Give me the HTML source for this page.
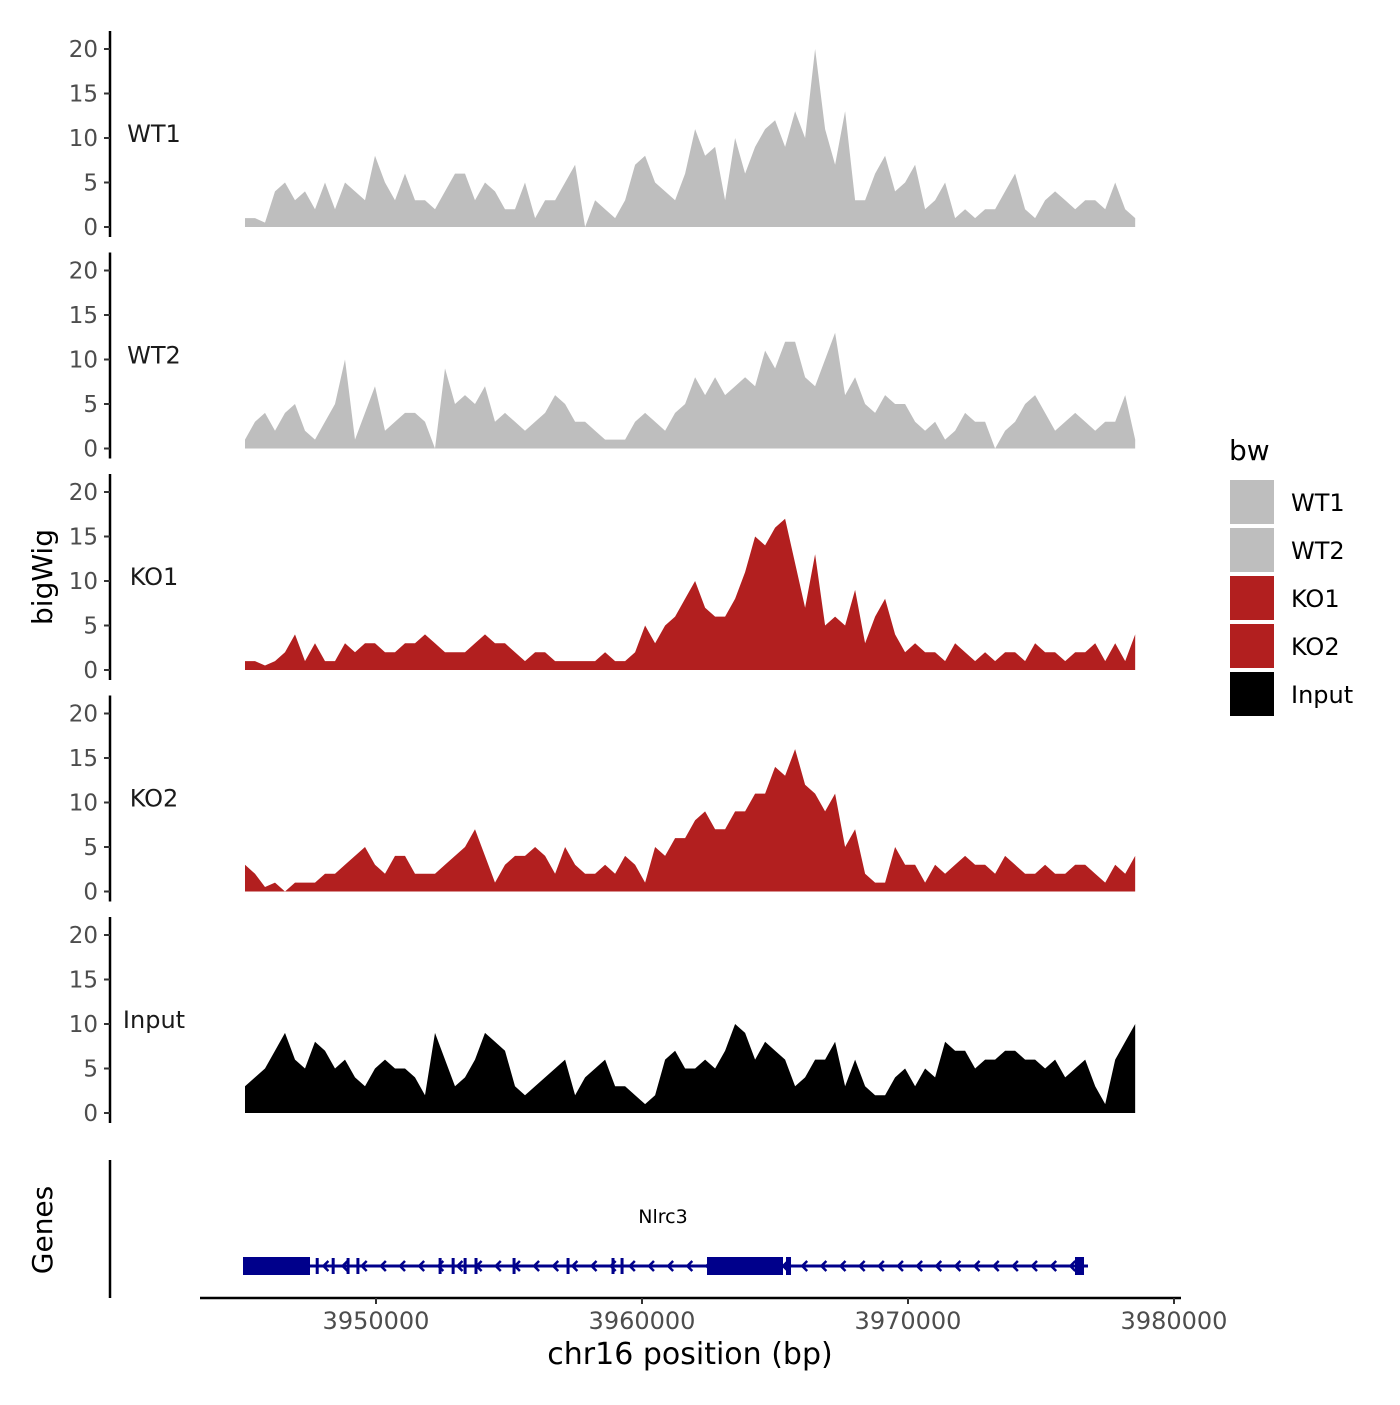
<!DOCTYPE html>
<html><head><meta charset="utf-8"><style>
body{margin:0;background:#fff}
svg text{font-family:"DejaVu Sans","Liberation Sans",sans-serif}
</style></head><body>
<svg id="chart" width="1400" height="1400" viewBox="0 0 1400 1400" xmlns="http://www.w3.org/2000/svg">
<g id="tracks"></g>
<g id="genes"></g>
<g id="xaxis"></g>
<text transform="translate(52,577) rotate(-90)" text-anchor="middle" font-size="28" fill="#000">bigWig</text>
<text transform="translate(52,1230) rotate(-90)" text-anchor="middle" font-size="28" fill="#000">Genes</text>
<text x="690" y="1364" text-anchor="middle" font-size="30" fill="#000">chr16 position (bp)</text>
<g id="legend"></g>
</svg>
<script>
const trackNames = ["WT1","WT2","KO1","KO2","Input"];
const trackColors = ["#bebebe","#bebebe","#b21f1f","#b21f1f","#000000"];
const binStart = 3945075;
const binEnd = 3978540;
const wt1 = [1,1,0.5,4,5,3,4,2,5,2,5,4,3,8,5,3,6,3,3,2,4,6,6,3,5,4,2,2,5,1,3,3,5,7,0,3,2,1,3,7,8,5,4,3,6,11,8,9,3,10,6,9,11,12,9,13,10,20,11,7,13,3,3,6,8,4,5,7,2,3,5,1,2,1,2,2,4,6,2,1,3,4,3,2,3,3,2,5,2,1];
const wt2 = [1,3,4,2,4,5,2,1,3,5,10,1,4,7,2,3,4,4,3,0,9,5,6,5,7,3,4,3,2,3,4,6,5,3,3,2,1,1,1,3,4,3,2,4,5,8,6,8,6,7,8,7,11,9,12,12,8,7,10,13,6,8,5,4,6,5,5,3,2,3,1,2,4,3,3,0,2,3,5,6,4,2,3,4,3,2,3,3,6,1];
const ko1 = [1,1,0.5,1,2,4,1,3,1,1,3,2,3,3,2,2,3,3,4,3,2,2,2,3,4,3,3,2,1,2,2,1,1,1,1,1,2,1,1,2,5,3,5,6,8,10,7,6,6,8,11,15,14,16,17,12,7,13,5,6,5,9,3,6,8,4,2,3,2,2,1,3,2,1,2,1,2,2,1,3,2,2,1,2,2,3,1,3,1,4];
const ko2 = [3,2,0.5,1,0,1,1,1,2,2,3,4,5,3,2,4,4,2,2,2,3,4,5,7,4,1,3,4,4,5,4,2,5,3,2,2,3,2,4,3,1,5,4,6,6,8,9,7,7,9,9,11,11,14,13,16,12,11,9,11,5,7,2,1,1,5,3,3,1,3,2,3,4,3,3,2,4,3,2,2,3,2,2,3,3,2,1,3,2,4];
const input = [3,4,5,7,9,6,5,8,7,5,6,4,3,5,6,5,5,4,2,9,6,3,4,6,9,8,7,3,2,3,4,5,6,2,4,5,6,3,3,2,1,2,6,7,5,5,6,5,7,10,9,6,8,7,6,3,4,6,6,8,3,6,3,2,2,4,5,3,5,4,8,7,7,5,6,6,7,7,6,6,5,6,4,5,6,3,1,6,8,10];
const trackValues = [wt1,wt2,ko1,ko2,input];
const yTicks = [0,5,10,15,20];
const xTicks = [3950000,3960000,3970000,3980000];
const xTickLabels = ["3950000","3960000","3970000","3980000"];
const geneName = "Nlrc3";
const geneStart = 3945000, geneEnd = 3976767;
const exonStarts = [3945000,3962444,3965414,3976278];
const exonEnds = [3947519,3965301,3965602,3976617];
const smallExons = [3947790,3948390,3948950,3949320,3952410,3952900,3953350,3953760,3955190,3957220,3958910,3959250];

const NS="http://www.w3.org/2000/svg";
function el(t,a,p){const e=document.createElementNS(NS,t);for(const k in a)e.setAttribute(k,a[k]);p.appendChild(e);return e;}
const xs = v => 376 + (v-3950000)/10000*266;
const ys = (v,i) => 227 + i*221.5 - v*8.9;
const tracks=document.getElementById('tracks');
trackValues.forEach((vals,i)=>{
  const g=el('g',{},tracks);
  
  
  const y0=ys(0,i);
  const ax=el('line',{x1:110,x2:110,y1:y0-196,y2:y0+10,stroke:'#000','stroke-width':2.5},g);
  
  
  yTicks.forEach(t=>{
    const y=ys(t,i);
    el('line',{x1:104,x2:110,y1:y,y2:y,stroke:'#333','stroke-width':2},g);
    const tx=el('text',{x:98,y:y+8,'text-anchor':'end','font-size':23,fill:'#4d4d4d'},g);
    tx.textContent=t;
    
    
  });
  const n=vals.length, step=(binEnd-binStart)/(n-1);
  let d='M'+xs(binStart)+','+y0;
  vals.forEach((v,j)=>{d+=' L'+xs(binStart+j*step).toFixed(1)+','+ys(v,i).toFixed(1);});
  d+=' L'+xs(binEnd)+','+y0+' Z';
  const p=el('path',{d:d,fill:trackColors[i]},g);
  
  
  const lb=el('text',{x:154,y:y0-85,'text-anchor':'middle','font-size':24,fill:'#1a1a1a'},g);
  lb.textContent=trackNames[i];
  
  
});
const gg=document.getElementById('genes');
el('line',{x1:110,x2:110,y1:1160,y2:1298,stroke:'#000','stroke-width':2.5},gg);
const gy=1266;
el('line',{x1:xs(geneStart),x2:xs(geneEnd),y1:gy,y2:gy,stroke:'#00008b','stroke-width':3},gg);
for(let b=geneStart+900;b<geneEnd-300;b+=720){
  const x=xs(b);
  el('path',{d:`M${x+4},${gy-5} L${x-1},${gy} L${x+4},${gy+5}`,stroke:'#00008b','stroke-width':2.5,fill:'none'},gg);
}
smallExons.forEach(b=>{const x=xs(b);const r=el('rect',{x:x-1.5,y:gy-8,width:3,height:16,fill:'#00008b'},gg);
  
  });
exonStarts.forEach((s,k)=>{const r=el('rect',{x:xs(s),y:gy-9,width:xs(exonEnds[k])-xs(s),height:18,fill:'#00008b'},gg);
  
  });
const gl=el('text',{x:663,y:1223,'text-anchor':'middle','font-size':19,fill:'#000'},gg);
gl.textContent=geneName;


const xa=document.getElementById('xaxis');
el('line',{x1:200,x2:1181,y1:1298,y2:1298,stroke:'#000','stroke-width':2.5},xa);
xTicks.forEach((t,k)=>{const x=xs(t);
  el('line',{x1:x,x2:x,y1:1298,y2:1304,stroke:'#333','stroke-width':2},xa);
  const tx=el('text',{x:x,y:1329,'text-anchor':'middle','font-size':24,fill:'#4d4d4d'},xa);
  tx.textContent=xTickLabels[k];
  
  });
const lg=document.getElementById('legend');
const lt=el('text',{x:1229,y:460,'font-size':28,fill:'#000'},lg);lt.textContent='bw';


trackNames.forEach((n,k)=>{
  const y=480+k*48;
  const r=el('rect',{x:1230,y:y,width:44,height:44,fill:trackColors[k]},lg);
  
  
  const t=el('text',{x:1291,y:y+31,'font-size':24,fill:'#000'},lg);t.textContent=n;
  
  
});
</script>
</body></html>
